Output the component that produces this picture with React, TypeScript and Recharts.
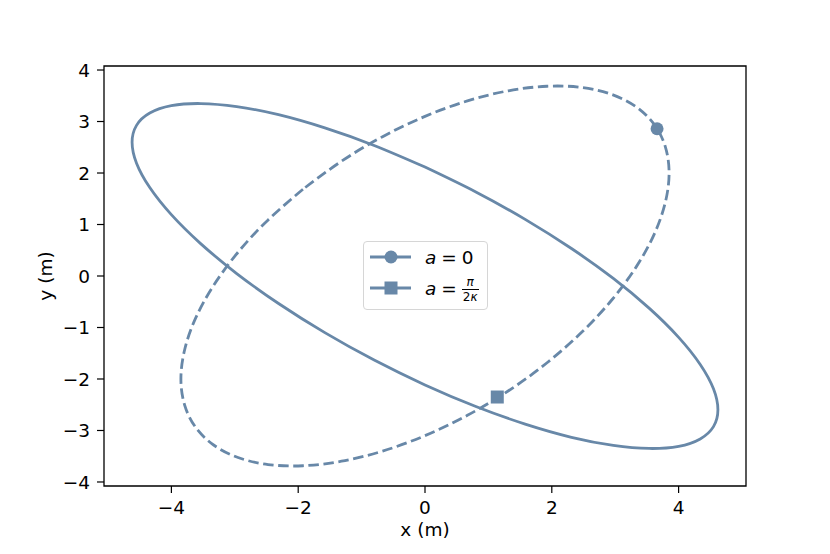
import React from "react";
import {
  ComposedChart,
  Line,
  XAxis,
  YAxis,
  ReferenceArea,
  ReferenceDot,
} from "recharts";

// solid orbit (a = 0)
const solidX = [
  0, -0.802, -1.58, -2.31, -2.97, -3.539, -4.001, -4.341, -4.55, -4.62, -4.55, -4.341,
  -4.001, -3.539, -2.97, -2.31, -1.58, -0.802, 0, 0.802, 1.58, 2.31, 2.97, 3.539, 4.001,
  4.341, 4.55, 4.62, 4.55, 4.341, 4.001, 3.539, 2.97, 2.31, 1.58, 0.802, 0,
];
const solidY = [
  2.116, 2.535, 2.876, 3.132, 3.29, 3.349, 3.307, 3.164, 2.925, 2.597, 2.19, 1.717, 1.191,
  0.629, 0.048, -0.534, -1.1, -1.633, -2.116, -2.535, -2.876, -3.132, -3.29, -3.349, -3.307,
  -3.164, -2.925, -2.597, -2.19, -1.717, -1.191, -0.629, -0.048, 0.534, 1.1, 1.633, 2.116,
];

// dashed orbit
const dashedX = [
  -1.925, -2.475, -2.949, -3.334, -3.618, -3.791, -3.85, -3.791, -3.618, -3.334, -2.949,
  -2.475, -1.925, -1.317, -0.669, 0, 0.669, 1.317, 1.925, 2.475, 2.949, 3.334, 3.618, 3.791,
  3.85, 3.791, 3.618, 3.334, 2.949, 2.475, 1.925, 1.317, 0.669, 0, -0.669, -1.317, -1.925,
];
const dashedY = [
  1.685, 1.089, 0.461, -0.182, -0.819, -1.432, -2.0, -2.508, -2.939, -3.282, -3.525, -3.661,
  -3.685, -3.597, -3.4, -3.1, -2.706, -2.229, -1.685, -1.089, -0.461, 0.182, 0.819, 1.432,
  2.0, 2.508, 2.939, 3.282, 3.525, 3.661, 3.685, 3.597, 3.4, 3.1, 2.706, 2.229, 1.685,
];

const circleMarker = { x: 3.66, y: 2.86 };
const squareMarker = { x: 1.14, y: -2.35 };

const xTicks = [-4, -2, 0, 2, 4];
const yTicks = [-4, -3, -2, -1, 0, 1, 2, 3, 4];
const xDomain = [-5.063, 5.063];
const yDomain = [-4.078, 4.078];

const solidData = solidX.map((x, i) => ({ x, y: solidY[i] }));
const dashedData = dashedX.map((x, i) => ({ x, y: dashedY[i] }));

const COLOR = "#6888a8";
const FONT = '"DejaVu Sans", sans-serif';
const FS = 18.5;
const fmt = (v: number) => (v < 0 ? "\u2212" + Math.abs(v) : String(v));

function Legend() {
  const row = (cy: number, marker: React.ReactNode, label: React.ReactNode) => (
    <>
      <svg
        width={50}
        height={20}
        style={{ position: "absolute", left: 4, top: cy - 10 }}
      >
        <line x1={2} x2={43} y1={10} y2={10} stroke={COLOR} strokeWidth={2.8} />
        {marker}
      </svg>
      <div
        style={{
          position: "absolute",
          left: 61,
          top: cy - 12,
          height: 24,
          display: "flex",
          alignItems: "center",
          fontSize: FS,
          whiteSpace: "nowrap",
        }}
      >
        {label}
      </div>
    </>
  );
  return (
    <div
      style={{
        position: "absolute",
        left: 363,
        top: 241,
        width: 123,
        height: 67,
        border: "1px solid #d6d6d6",
        borderRadius: 4,
        background: "rgba(255,255,255,0.8)",
        fontFamily: FONT,
      }}
    >
      {row(
        15,
        <circle cx={23} cy={10} r={6.5} fill={COLOR} />,
        <>
          <i>a</i>
          <span style={{ margin: "0 5px" }}>=</span>
          <span>0</span>
        </>,
      )}
      {row(
        46,
        <rect x={16.5} y={3.5} width={13} height={13} fill={COLOR} />,
        <>
          <i>a</i>
          <span style={{ margin: "0 5px" }}>=</span>
          <span
            style={{
              display: "inline-flex",
              flexDirection: "column",
              alignItems: "center",
              fontSize: 12,
              lineHeight: 1,
              marginTop: 3,
            }}
          >
            <i style={{ paddingBottom: 1 }}>π</i>
            <span style={{ borderTop: "1px solid #000", padding: "1px 1px 0" }}>
              2<i>κ</i>
            </span>
          </span>
        </>,
      )}
    </div>
  );
}

export default function App() {
  return (
    <div
      style={{
        position: "absolute",
        left: 0,
        top: 0,
        width: 830,
        height: 554,
        background: "#fff",
        fontFamily: FONT,
      }}
    >
      <ComposedChart
        width={830}
        height={554}
        margin={{ top: 66, right: 84, bottom: 18, left: 44 }}
      >
        <XAxis
          type="number"
          dataKey="x"
          domain={xDomain}
          ticks={xTicks}
          allowDataOverflow
          tickFormatter={fmt}
          height={50}
          tickSize={7}
          tickMargin={8}
          axisLine={false}
          tickLine={{ stroke: "#000", strokeWidth: 1.2 }}
          tick={{ fill: "#000", fontSize: FS, fontFamily: FONT }}
          label={{
            value: "x (m)",
            position: "insideBottom",
            offset: 0,
            fill: "#000",
            fontSize: FS,
            fontFamily: FONT,
          }}
        />
        <YAxis
          type="number"
          dataKey="y"
          domain={yDomain}
          ticks={yTicks}
          allowDataOverflow
          tickFormatter={fmt}
          width={60}
          tickSize={7}
          tickMargin={7}
          axisLine={false}
          tickLine={{ stroke: "#000", strokeWidth: 1.2 }}
          tick={{ fill: "#000", fontSize: FS, fontFamily: FONT }}
          label={{
            value: "y (m)",
            angle: -90,
            position: "insideLeft",
            offset: 1,
            fill: "#000",
            fontSize: FS,
            fontFamily: FONT,
            style: { textAnchor: "middle" },
          }}
        />
        <ReferenceArea
          x1={xDomain[0]}
          x2={xDomain[1]}
          y1={yDomain[0]}
          y2={yDomain[1]}
          fill="none"
          fillOpacity={0}
          stroke="#000"
          strokeWidth={1.3}
        />
        <Line
          data={solidData}
          dataKey="y"
          type="natural"
          stroke={COLOR}
          strokeWidth={2.8}
          dot={false}
          activeDot={false}
          isAnimationActive={false}
        />
        <Line
          data={dashedData}
          dataKey="y"
          type="natural"
          stroke={COLOR}
          strokeWidth={2.8}
          strokeDasharray="10.5 4.6"
          dot={false}
          activeDot={false}
          isAnimationActive={false}
        />
        <ReferenceDot
          x={circleMarker.x}
          y={circleMarker.y}
          r={6.5}
          fill={COLOR}
          stroke="none"
        />
        <ReferenceDot
          x={squareMarker.x}
          y={squareMarker.y}
          r={6.5}
          shape={(p: any) => (
            <rect x={p.cx - 6.5} y={p.cy - 6.5} width={13} height={13} fill={COLOR} />
          )}
        />
      </ComposedChart>
      <Legend />
    </div>
  );
}
